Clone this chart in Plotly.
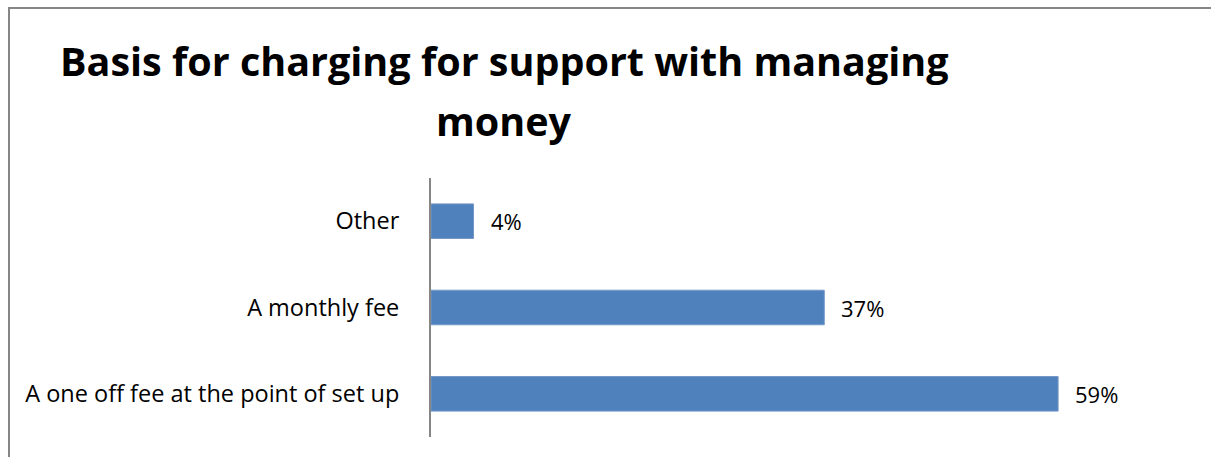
import plotly.graph_objects as go

# Survey responses: basis for charging for support with managing money
categories = ["A one off fee at the point of set up", "A monthly fee", "Other"]
percentages = [59, 37, 4]
value_labels = ["59%", "37%", "4%"]

title_line1 = "Basis for charging for support with managing"
title_line2 = "money"

FONT = "'Open Sans', sans-serif"
BAR_BLUE = "#4F81BD"
AXIS_GREY = "#868686"

W, H = 1211, 457
M_L, M_R, M_T, M_B = 431, 36, 178, 20
PLOT_W = W - M_L - M_R
PLOT_H = H - M_T - M_B


def px_to_paper_x(px):
    return (px - M_L) / PLOT_W


def px_to_paper_y(py):
    return (H - M_B - py) / PLOT_H


fig = go.Figure(
    go.Bar(
        x=percentages,
        y=categories,
        orientation="h",
        marker=dict(color=BAR_BLUE, line=dict(color="#7396C6", width=1)),
        width=0.4,
    )
)

# Value labels sit a little to the right of each bar end
for cat, val, lab in zip(categories, percentages, value_labels):
    fig.add_annotation(
        x=val,
        y=cat,
        xref="x",
        yref="y",
        text=lab,
        showarrow=False,
        xanchor="left",
        yanchor="middle",
        xshift=15,
        font=dict(family=FONT, size=22, color="#000000"),
    )

fig.update_layout(
    width=W,
    height=H,
    margin=dict(l=M_L, r=M_R, t=M_T, b=M_B),
    paper_bgcolor="white",
    plot_bgcolor="white",
    showlegend=False,
    font=dict(family=FONT, size=22, color="#000000"),
)

fig.update_xaxes(
    range=[0, 70],
    visible=False,
    showgrid=False,
    zeroline=False,
)

fig.update_yaxes(
    categoryorder="array",
    categoryarray=categories,
    showline=True,
    linecolor=AXIS_GREY,
    linewidth=2,
    showgrid=False,
    ticks="",
    ticklabelstandoff=25,
    tickfont=dict(family=FONT, size=23.5, color="#000000"),
    range=[-0.5, 2.5],
)

# Chart title, two centred lines
for text, py in [(title_line1, 61), (title_line2, 121)]:
    fig.add_annotation(
        text=f"<b>{text}</b>",
        xref="paper",
        yref="paper",
        x=px_to_paper_x(504),
        y=px_to_paper_y(py),
        xanchor="center",
        yanchor="middle",
        showarrow=False,
        font=dict(family=FONT, size=39.5, color="#000000"),
    )

# Outer chart frame
fig.add_shape(
    type="rect",
    xref="paper",
    yref="paper",
    x0=px_to_paper_x(9),
    x1=px_to_paper_x(W + 20),
    y0=px_to_paper_y(H + 20),
    y1=px_to_paper_y(8),
    line=dict(color=AXIS_GREY, width=2),
    fillcolor="rgba(0,0,0,0)",
    layer="below",
)

fig.write_html("out.html")
